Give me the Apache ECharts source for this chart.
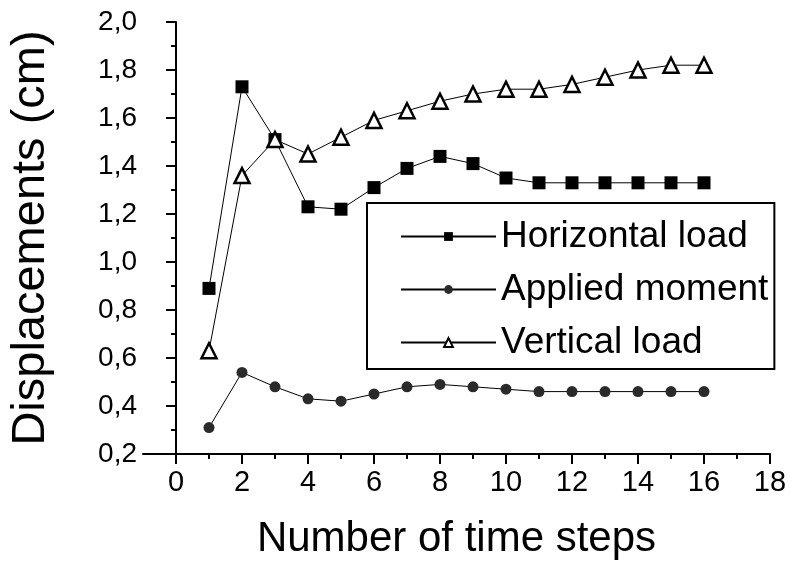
<!DOCTYPE html>
<html>
<head>
<meta charset="utf-8">
<script src="https://cdn.jsdelivr.net/npm/echarts@6/dist/echarts.min.js"></script>
<style>
  html, body { margin: 0; padding: 0; background: #fff; }
  #chart { width: 791px; height: 565px; }
</style>
</head>
<body>
<div id="chart"></div>
<script>
// Time steps (x) and displacement series (cm)
const steps = [1, 2, 3, 4, 5, 6, 7, 8, 9, 10, 11, 12, 13, 14, 15, 16];
const horizontalLoad = [0.89, 1.73, 1.51, 1.23, 1.22, 1.31, 1.39, 1.44, 1.41, 1.35, 1.33, 1.33, 1.33, 1.33, 1.33, 1.33];
const appliedMoment = [0.31, 0.54, 0.48, 0.43, 0.42, 0.45, 0.48, 0.49, 0.48, 0.47, 0.46, 0.46, 0.46, 0.46, 0.46, 0.46];
const verticalLoad = [0.63, 1.36, 1.51, 1.45, 1.52, 1.59, 1.63, 1.67, 1.70, 1.72, 1.72, 1.74, 1.77, 1.80, 1.82, 1.82];
const seriesNames = ['Horizontal load', 'Applied moment', 'Vertical load'];

// Axis tick values
const xTicks = [0, 2, 4, 6, 8, 10, 12, 14, 16, 18];
const xMinorTicks = [1, 3, 5, 7, 9, 11, 13, 15, 17];
const yTicks = [0.2, 0.4, 0.6, 0.8, 1.0, 1.2, 1.4, 1.6, 1.8, 2.0];

const FONT = '"Liberation Sans", Arial, sans-serif';
const pair = (ys) => steps.map((x, i) => [x, ys[i]]);
const comma = (v) => v.toFixed(1).replace('.', ',');

const chart = echarts.init(document.getElementById('chart'), null, { renderer: 'canvas' });

chart.setOption({
  backgroundColor: '#ffffff',
  animation: false,
  grid: { left: 142, right: 21, top: 22, bottom: 110, containLabel: false },
  legend: {
    orient: 'vertical',
    left: 367,
    top: 203,
    padding: [15, 6, 8, 33],
    itemGap: 16,
    itemWidth: 95,
    itemHeight: 11,
    borderColor: '#000',
    borderWidth: 2,
    data: seriesNames,
    textStyle: { fontFamily: FONT, fontSize: 37, color: '#000' }
  },
  xAxis: [
    {
      type: 'value',
      min: -1,
      max: 18,
      name: 'Number of time steps',
      nameLocation: 'middle',
      nameGap: 64,
      nameTextStyle: { fontFamily: FONT, fontSize: 42, color: '#000' },
      axisLine: { show: true, lineStyle: { color: '#000', width: 2 } },
      axisTick: { show: true, customValues: xTicks, length: 10, lineStyle: { color: '#000', width: 2 } },
      axisLabel: { customValues: xTicks, fontFamily: FONT, fontSize: 29, color: '#000', margin: 14 },
      splitLine: { show: false }
    },
    {
      type: 'value',
      min: -1,
      max: 18,
      position: 'bottom',
      axisLine: { show: false },
      axisTick: { show: true, customValues: xMinorTicks, length: 5, lineStyle: { color: '#000', width: 2 } },
      axisLabel: { show: false },
      splitLine: { show: false }
    }
  ],
  yAxis: {
    type: 'value',
    min: 0.2,
    max: 2.0,
    interval: 0.2,
    name: 'Displacements (cm)',
    nameLocation: 'middle',
    nameGap: 88,
    nameTextStyle: { fontFamily: FONT, fontSize: 47, color: '#000' },
    axisLine: { show: true, lineStyle: { color: '#000', width: 2 } },
    axisTick: { show: true, customValues: yTicks, length: 10, lineStyle: { color: '#000', width: 2 } },
    minorTick: { show: true, splitNumber: 2, length: 5, lineStyle: { color: '#000', width: 2 } },
    axisLabel: { customValues: yTicks, formatter: comma, fontFamily: FONT, fontSize: 28, color: '#000', margin: 6 },
    splitLine: { show: false },
    minorSplitLine: { show: false }
  },
  series: [
    {
      name: seriesNames[0],
      type: 'line',
      data: pair(horizontalLoad),
      symbol: 'rect',
      symbolSize: 13,
      lineStyle: { color: '#000', width: 1 },
      itemStyle: { color: '#000' }
    },
    {
      name: seriesNames[1],
      type: 'line',
      data: pair(appliedMoment),
      symbol: 'circle',
      symbolSize: 11,
      lineStyle: { color: '#000', width: 1 },
      itemStyle: { color: '#2a2a2a' }
    },
    {
      name: seriesNames[2],
      type: 'line',
      data: pair(verticalLoad),
      symbol: 'triangle',
      symbolSize: 15,
      lineStyle: { color: '#000', width: 1 },
      itemStyle: { color: '#fff', borderColor: '#000', borderWidth: 2.5 }
    }
  ]
});
</script>
</body>
</html>
